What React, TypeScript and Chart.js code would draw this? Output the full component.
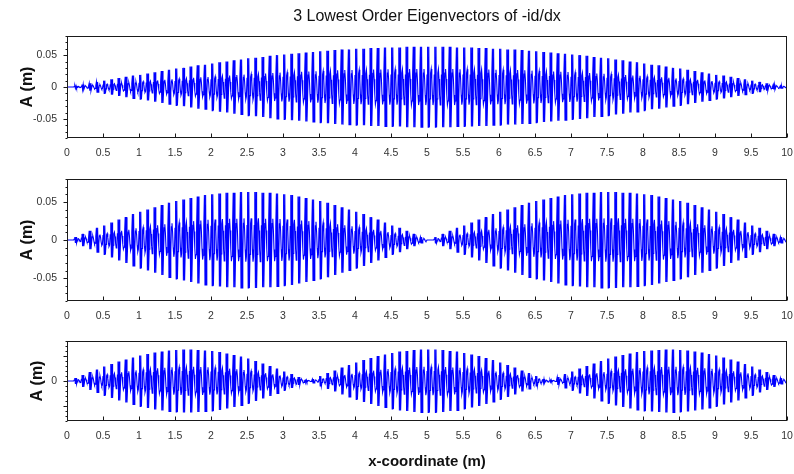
import React, { useEffect, useRef } from 'react';
import { Chart, registerables } from 'chart.js';

Chart.register(...registerables);

// ---------------- data ----------------
const chartTitle = '3 Lowest Order Eigenvectors of -id/dx';
const yAxisTitle = 'A (m)';
const xAxisTitle = 'x-coordinate (m)';

const xTickValues = [0, 0.5, 1, 1.5, 2, 2.5, 3, 3.5, 4, 4.5, 5, 5.5, 6, 6.5, 7, 7.5, 8, 8.5, 9, 9.5, 10];
const xTickLabels = ['0', '0.5', '1', '1.5', '2', '2.5', '3', '3.5', '4', '4.5', '5', '5.5', '6', '6.5', '7', '7.5', '8', '8.5', '9', '9.5', '10'];
const yTickValues = [-0.05, 0, 0.05];
const yTickLabelsFull = ['-0.05', '0', '0.05'];
const yTickLabelsZeroOnly = ['', '0', ''];
const yMinorTickValues = [-0.08, -0.07, -0.06, -0.04, -0.03, -0.02, -0.01, 0.01, 0.02, 0.03, 0.04, 0.06, 0.07, 0.08];

// one visible carrier cycle (0.1 m long), normalised to the local envelope:
// a full-height spike followed by a thinner inner wiggle
const cycleLength = 0.1;
const carrierShape = [0.3, 1.0, -1.0, 1.0, -1.0, -0.3, 0.35, 0.45, 0.2, -0.2, -0.45, -0.35];

// envelope amplitude of each carrier cycle, in units of 0.001 m (x = 0, 0.1, ... 10)
const envelopeMode1 = [
  0, 2, 4, 6, 8, 10, 12, 14, 16, 18, 19, 21, 23, 25, 27, 29, 30, 32, 34, 35,
  37, 39, 40, 42, 43, 45, 46, 47, 49, 50, 51, 52, 53, 54, 55, 56, 57, 58, 59, 59,
  60, 60, 61, 61, 62, 62, 62, 63, 63, 63, 63, 63, 63, 63, 62, 62, 62, 61, 61, 60,
  60, 59, 59, 58, 57, 56, 55, 54, 53, 52, 51, 50, 49, 47, 46, 45, 43, 42, 40, 39,
  37, 35, 34, 32, 30, 29, 27, 25, 23, 21, 19, 18, 16, 14, 12, 10, 8, 6, 4, 2, 0,
];
const envelopeMode2 = [
  0, 4, 8, 12, 16, 19, 23, 27, 30, 34, 37, 40, 43, 46, 49, 51, 53, 55, 57, 59,
  60, 61, 62, 62, 63, 63, 63, 62, 62, 61, 60, 59, 57, 55, 53, 51, 49, 46, 43, 40,
  37, 34, 30, 27, 23, 19, 16, 12, 8, 4, 0, 4, 8, 12, 16, 19, 23, 27, 30, 34,
  37, 40, 43, 46, 49, 51, 53, 55, 57, 59, 60, 61, 62, 62, 63, 63, 63, 62, 62, 61,
  60, 59, 57, 55, 53, 51, 49, 46, 43, 40, 37, 34, 30, 27, 23, 19, 16, 12, 8, 4, 0,
];
const envelopeMode3 = [
  0, 6, 12, 18, 23, 29, 34, 39, 43, 47, 51, 54, 57, 59, 61, 62, 63, 63, 62, 61,
  60, 58, 55, 52, 49, 45, 40, 35, 30, 25, 19, 14, 8, 2, 4, 10, 16, 21, 27, 32,
  37, 42, 46, 50, 53, 56, 59, 60, 62, 63, 63, 63, 62, 60, 59, 56, 53, 50, 46, 42,
  37, 32, 27, 21, 16, 10, 4, 2, 8, 14, 19, 25, 30, 35, 40, 45, 49, 52, 55, 58,
  60, 61, 62, 63, 63, 62, 61, 59, 57, 54, 51, 47, 43, 39, 34, 29, 23, 18, 12, 6, 0,
];

// ---------------- helpers ----------------
const FONT = '"Liberation Sans", Arial, Helvetica, sans-serif';

function buildPoints(env: number[]) {
  const pts: { x: number; y: number }[] = [];
  const n = carrierShape.length;
  for (let k = 0; k < env.length - 1; k++) {
    for (let j = 0; j < n; j++) {
      pts.push({
        x: +(k * cycleLength + (j * cycleLength) / n).toFixed(5),
        y: (env[k] * carrierShape[j]) / 1000,
      });
    }
  }
  pts.push({ x: +((env.length - 1) * cycleLength).toFixed(5), y: 0 });
  return pts;
}

type PanelSpec = {
  env: number[];
  canvasTop: number;
  canvasHeight: number;
  areaTop: number;
  areaBottom: number;
  yLabels: string[];
  yTitleX: number;
  showTitle: boolean;
  showXTitle: boolean;
};

const panels: PanelSpec[] = [
  { env: envelopeMode1, canvasTop: 0, canvasHeight: 165, areaTop: 36, areaBottom: 138, yLabels: yTickLabelsFull, yTitleX: 28, showTitle: true, showXTitle: false },
  { env: envelopeMode2, canvasTop: 165, canvasHeight: 160, areaTop: 14, areaBottom: 136, yLabels: yTickLabelsFull, yTitleX: 28, showTitle: false, showXTitle: false },
  { env: envelopeMode3, canvasTop: 325, canvasHeight: 149, areaTop: 16, areaBottom: 96, yLabels: yTickLabelsZeroOnly, yTitleX: 38, showTitle: false, showXTitle: true },
];

const WIDTH = 794;
const AREA_LEFT = 67;
const AREA_RIGHT = 787;

function makeDecor(p: PanelSpec) {
  return {
    id: 'decor',
    afterDraw(chart: any) {
      const ctx: CanvasRenderingContext2D = chart.ctx;
      const { left, right, top, bottom } = chart.chartArea;
      const xs = chart.scales.x;
      const ys = chart.scales.y;
      ctx.save();
      ctx.strokeStyle = '#1a1a1a';
      ctx.lineWidth = 1;
      const l = Math.round(left) + 0.5;
      const r = Math.round(right) - 0.5;
      const t = Math.round(top) + 0.5;
      const b = Math.round(bottom) - 0.5;
      ctx.strokeRect(l, t, r - l, b - t);
      ctx.beginPath();
      for (const v of xTickValues) {
        const px = Math.round(xs.getPixelForValue(v)) + 0.5;
        ctx.moveTo(px, b);
        ctx.lineTo(px, b - 4);
      }
      for (const v of yTickValues) {
        const py = Math.round(ys.getPixelForValue(v)) + 0.5;
        ctx.moveTo(l, py);
        ctx.lineTo(l - 4, py);
      }
      for (const v of yMinorTickValues) {
        const py = Math.round(ys.getPixelForValue(v)) + 0.5;
        ctx.moveTo(l, py);
        ctx.lineTo(l - 2, py);
      }
      ctx.stroke();

      ctx.fillStyle = '#111';
      ctx.save();
      ctx.translate(p.yTitleX, (top + bottom) / 2);
      ctx.rotate(-Math.PI / 2);
      ctx.font = `bold 16px ${FONT}`;
      ctx.textAlign = 'center';
      ctx.textBaseline = 'middle';
      ctx.fillText(yAxisTitle, 0, 0);
      ctx.restore();

      const cx = (left + right) / 2;
      if (p.showTitle) {
        ctx.font = `16px ${FONT}`;
        ctx.textAlign = 'center';
        ctx.textBaseline = 'middle';
        ctx.fillText(chartTitle, cx, 17);
      }
      if (p.showXTitle) {
        ctx.font = `bold 15px ${FONT}`;
        ctx.textAlign = 'center';
        ctx.textBaseline = 'middle';
        ctx.fillText(xAxisTitle, cx, 462 - p.canvasTop);
      }
      ctx.restore();
    },
  };
}

function Panel({ spec }: { spec: PanelSpec }) {
  const ref = useRef<HTMLCanvasElement | null>(null);
  useEffect(() => {
    if (!ref.current) return;
    const p = spec;
    const chart = new Chart(ref.current, {
      type: 'line',
      data: {
        datasets: [
          {
            data: buildPoints(p.env),
            borderColor: '#0000ff',
            borderWidth: 1.1,
            pointRadius: 0,
            tension: 0,
            fill: false,
          },
        ],
      },
      options: {
        animation: false,
        responsive: false,
        devicePixelRatio: 1,
        parsing: false,
        normalized: true,
        events: [],
        layout: {
          padding: { left: 0, top: p.areaTop, right: WIDTH - AREA_RIGHT, bottom: 0 },
        },
        plugins: {
          legend: { display: false },
          title: { display: false },
          tooltip: { enabled: false },
        },
        scales: {
          x: {
            type: 'linear',
            min: 0,
            max: 10,
            grid: { display: false, drawTicks: false },
            border: { display: false },
            afterBuildTicks: (scale: any) => {
              scale.ticks = xTickValues.map((v) => ({ value: v }));
            },
            afterFit: (scale: any) => {
              scale.height = p.canvasHeight - p.areaBottom;
              scale.paddingLeft = 0;
              scale.paddingRight = 0;
            },
            ticks: {
              autoSkip: false,
              maxRotation: 0,
              minRotation: 0,
              padding: 9,
              color: '#333',
              font: { family: FONT, size: 10.5 },
              callback: (_v: any, i: number) => xTickLabels[i],
            },
          },
          y: {
            type: 'linear',
            min: -0.08,
            max: 0.08,
            grid: { display: false, drawTicks: false },
            border: { display: false },
            afterBuildTicks: (scale: any) => {
              scale.ticks = yTickValues.map((v) => ({ value: v }));
            },
            afterFit: (scale: any) => {
              scale.width = AREA_LEFT;
              scale.paddingTop = 0;
              scale.paddingBottom = 0;
            },
            ticks: {
              autoSkip: false,
              padding: 10,
              color: '#333',
              font: { family: FONT, size: 10.5 },
              callback: (_v: any, i: number) => p.yLabels[i],
            },
          },
        },
      } as any,
      plugins: [makeDecor(p)],
    });
    return () => chart.destroy();
  }, [spec]);
  return (
    <canvas
      ref={ref}
      width={WIDTH}
      height={spec.canvasHeight}
      style={{ position: 'absolute', left: 0, top: spec.canvasTop, width: WIDTH, height: spec.canvasHeight, display: 'block' }}
    />
  );
}

export default function App() {
  return (
    <div style={{ position: 'fixed', left: 0, top: 0, width: WIDTH, height: 474, background: '#fff', overflow: 'hidden' }}>
      {panels.map((p, i) => (
        <Panel key={i} spec={p} />
      ))}
    </div>
  );
}
